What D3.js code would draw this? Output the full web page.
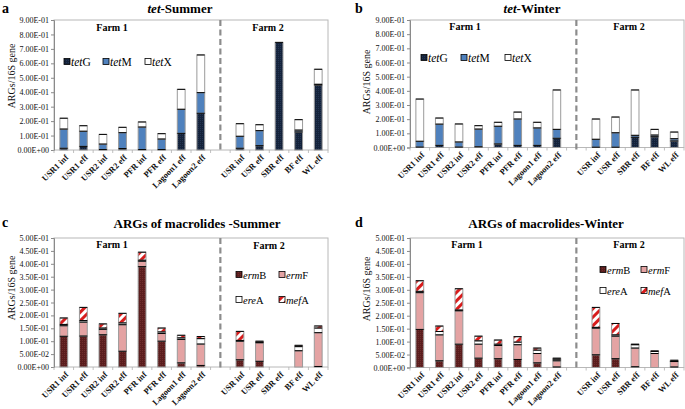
<!DOCTYPE html>
<html><head><meta charset="utf-8">
<script src="https://cdn.jsdelivr.net/npm/d3@7"></script>
<style>body{margin:0;background:#fff}svg{display:block}</style>
</head><body><svg id="c" width="685" height="409"></svg>
<script>
// ---------- DATA ----------
const farm1 = ["USR1 inf","USR1 eff","USR2 inf","USR2 eff","PFR inf","PFR eff","Lagoon1 eff","Lagoon2 eff"];
const farm2 = ["USR inf","USR eff","SBR eff","BF eff","WL eff"];
const tetKeys = ["tetG","tetM","tetX"];
const macKeys = ["ermB","ermF","ereA","mefA"];
const tetTicks = [0,0.1,0.2,0.3,0.4,0.5,0.6,0.7,0.8,0.9];
const macTicks = [0,0.05,0.1,0.15,0.2,0.25,0.3,0.35,0.4,0.45,0.5];

// a: tet-Summer
const tetG_S = [0.012,0.025,0.003,0.010,0.003,0.003,0.115,0.254, 0.012,0.030,0.745,0.125,0.450];
const tetM_S = [0.133,0.105,0.038,0.110,0.156,0.073,0.167,0.143, 0.083,0.104,0.000,0.013,0.005];
const tetX_S = [0.075,0.038,0.067,0.037,0.035,0.037,0.138,0.261, 0.087,0.041,0.000,0.072,0.104];
// b: tet-Winter
const tetG_W = [0.003,0.015,0.003,0.005,0.025,0.015,0.015,0.065, 0.002,0.002,0.072,0.076,0.046];
const tetM_W = [0.041,0.150,0.036,0.125,0.125,0.186,0.123,0.063, 0.056,0.102,0.014,0.012,0.016];
const tetX_W = [0.298,0.043,0.127,0.024,0.028,0.049,0.040,0.278, 0.143,0.111,0.320,0.040,0.047];
// c: macrolides-Summer
const ermB_S = [0.119,0.120,0.125,0.061,0.389,0.100,0.016,0.006, 0.028,0.022,0,0.000,0.002];
const ermF_S = [0.041,0.054,0.021,0.103,0.021,0.030,0.091,0.083, 0.072,0.072,0,0.063,0.131];
const ereA_S = [0.005,0.006,0.005,0.007,0.004,0.006,0.006,0.021, 0.003,0.002,0,0.016,0.018];
const mefA_S = [0.025,0.051,0.016,0.037,0.031,0.015,0.010,0.008, 0.035,0.004,0,0.005,0.008];
// d: macrolides-Winter
const ermB_W = [0.147,0.026,0.090,0.036,0.034,0.031,0.018,0.002, 0.049,0.034,0.003,0.000,0.002];
const ermF_W = [0.142,0.100,0.129,0.054,0.051,0.057,0.036,0.024, 0.103,0.087,0.072,0.054,0.021];
const ereA_W = [0.005,0.013,0.003,0.013,0.005,0.010,0.013,0.006, 0.003,0.005,0.013,0.008,0.001];
const mefA_W = [0.041,0.021,0.082,0.018,0.016,0.021,0.008,0.004, 0.077,0.044,0.002,0.002,0.004];

// ---------- RENDER ----------
const svg = d3.select("#c");
const FONT = "'Liberation Serif','Times New Roman',serif";
const defs = svg.append("defs");
function dotPattern(id, base, dot){
  const p = defs.append("pattern").attr("id",id).attr("width",2).attr("height",2).attr("patternUnits","userSpaceOnUse");
  p.append("rect").attr("width",2).attr("height",2).attr("fill",base);
  p.append("rect").attr("width",1).attr("height",1).attr("fill",dot);
}
dotPattern("pG","#14223a","#233552");
dotPattern("pB","#5a1d1d","#6f2d2d");
const ps = defs.append("pattern").attr("id","pM").attr("width",6).attr("height",6)
  .attr("patternUnits","userSpaceOnUse").attr("patternTransform","rotate(45)");
ps.append("rect").attr("width",6).attr("height",6).attr("fill","#fff");
ps.append("rect").attr("width",3).attr("height",6).attr("fill","#d81c1c");

const fills = {tetG:"url(#pG)", tetM:"#4f81bd", tetX:"#ffffff",
               ermB:"url(#pB)", ermF:"#e4a3a3", ereA:"#ffffff", mefA:"url(#pM)"};

function fmtE(v){
  if (v===0) return "0.00E+00";
  const [m,e] = v.toExponential(2).split("e");
  const n = +e;
  return m + "E" + (n<0?"-":"+") + String(Math.abs(n)).padStart(2,"0");
}

const cats = [...farm1, "", ...farm2];

function build(keys, arrays){
  return cats.map((c,i)=>{
    const r = {cat:c};
    const j = i<8 ? i : (i===8 ? -1 : i-1);
    keys.forEach((k,ki)=>{ r[k] = j<0 ? 0 : arrays[ki][j]; });
    return r;
  });
}

const panels = [
  {letter:"a", lx:2, ly:13, L:54, R:328, T:20, B:150, ymax:0.9, ticks:tetTicks, keys:tetKeys,
   data:build(tetKeys,[tetG_S,tetM_S,tetX_S]), title:[["tet",true],["-Summer",false]], tx:180, ty:13,
   f1:[112,31], f2:[268,31], ytx:11, yty:76,
   legend:{rows:[[["tetG",67,62],["tetM",106,62],["tetX",148,62]]], fs:11.5}},
  {letter:"b", lx:355, ly:13, L:410, R:684, T:20, B:147.5, ymax:0.9, ticks:tetTicks, keys:tetKeys,
   data:build(tetKeys,[tetG_W,tetM_W,tetX_W]), title:[["tet",true],["-Winter",false]], tx:532, ty:13,
   f1:[465,30], f2:[629,30], ytx:366, yty:82,
   legend:{rows:[[["tetG",424,58],["tetM",464,58],["tetX",508,58]]], fs:11.5}},
  {letter:"c", lx:2, ly:227, L:54, R:328, T:238, B:367, ymax:0.5, ticks:macTicks, keys:macKeys,
   data:build(macKeys,[ermB_S,ermF_S,ereA_S,mefA_S]), title:[["ARGs of macrolides -Summer",false]], tx:197, ty:228,
   f1:[112,248], f2:[269,249], ytx:11, yty:288,
   legend:{rows:[[["ermB",239,275],["ermF",282,275]],[["ereA",239,300],["mefA",282,300]]], fs:10.5}},
  {letter:"d", lx:355, ly:227, L:410, R:684, T:238, B:367.5, ymax:0.5, ticks:macTicks, keys:macKeys,
   data:build(macKeys,[ermB_W,ermF_W,ereA_W,mefA_W]), title:[["ARGs of macrolides-Winter",false]], tx:546, ty:228,
   f1:[467,248], f2:[629,248], ytx:366, yty:289,
   legend:{rows:[[["ermB",603,270],["ermF",644,270]],[["ereA",603,291],["mefA",644,291]]], fs:10.5}}
];

function geneLabel(sel, name){
  const pre = name.slice(0,3), suf = name.slice(3);
  sel.append("tspan").attr("font-style","italic").text(pre);
  sel.append("tspan").text(suf);
}

panels.forEach(p=>{
  const g = svg.append("g");
  const x = d3.scaleBand().domain(cats).range([p.L,p.R]).paddingInner(0.6).paddingOuter(0.3);
  const y = d3.scaleLinear().domain([0,p.ymax]).range([p.B,p.T]);
  const bw = x.bandwidth();

  g.append("rect").attr("x",p.L).attr("y",p.T).attr("width",p.R-p.L).attr("height",p.B-p.T)
    .attr("fill","none").attr("stroke","#b8b8b8").attr("stroke-width",1);

  const ya = g.append("g").attr("transform",`translate(${p.L},0)`)
    .call(d3.axisLeft(y).tickValues(p.ticks).tickFormat(fmtE).tickSize(3).tickPadding(2));
  ya.select(".domain").attr("stroke","#8a8a8a");
  ya.selectAll(".tick line").attr("stroke","#8a8a8a");
  ya.selectAll("text").attr("font-family",FONT).attr("font-size",8).attr("fill","#111");

  const step = x.step();
  d3.range(cats.length+1).forEach(i=>{
    const xx = p.L + i*step;
    g.append("line").attr("x1",xx).attr("x2",xx).attr("y1",p.B).attr("y2",p.B+3)
      .attr("stroke","#b0b0b0").attr("stroke-width",0.8);
  });

  const series = d3.stack().keys(p.keys)(p.data);
  series.forEach(s=>{
    const k = s.key;
    s.forEach(d=>{
      const c = d.data.cat;
      if (!c) return;
      const h = y(d[0]) - y(d[1]);
      if (h <= 0.05) return;
      g.append("rect").attr("x",x(c)).attr("y",y(d[1])).attr("width",bw).attr("height",h)
        .attr("fill",fills[k]).attr("stroke","#9a9a9a").attr("stroke-width",1);
    });
  });
  series.forEach(s=>{
    s.forEach(d=>{
      const c = d.data.cat;
      if (!c) return;
      const h = y(d[0]) - y(d[1]);
      if (h <= 0.05) return;
      g.append("line").attr("x1",x(c)).attr("x2",x(c)+bw).attr("y1",y(d[1])).attr("y2",y(d[1]))
        .attr("stroke","#000").attr("stroke-width",1);
    });
  });

  const sx = x("") + bw/2;
  g.append("line").attr("x1",sx).attr("x2",sx).attr("y1",p.T).attr("y2",p.B+3)
    .attr("stroke","#8c8c8c").attr("stroke-width",2.2).attr("stroke-dasharray","6,3.5");

  cats.forEach(c=>{
    if (!c) return;
    const cx = x(c) + bw/2;
    g.append("text").attr("transform",`translate(${cx+3},${p.B+6}) rotate(-45)`)
      .attr("text-anchor","end").attr("dy","0.35em")
      .attr("font-family",FONT).attr("font-size",8.5).attr("font-weight","bold").attr("fill","#111").text(c);
  });

  g.append("text").attr("transform",`translate(${p.ytx},${p.yty}) rotate(-90)`)
    .attr("text-anchor","middle").attr("dy","0.35em")
    .attr("font-family",FONT).attr("font-size",10).attr("fill","#111").text("ARGs/16S gene");

  g.append("text").attr("x",p.lx).attr("y",p.ly).attr("font-family",FONT).attr("font-size",14)
    .attr("font-weight","bold").attr("fill","#000").text(p.letter);

  const t = g.append("text").attr("x",p.tx).attr("y",p.ty).attr("text-anchor","middle")
    .attr("font-family",FONT).attr("font-size",13).attr("font-weight","bold").attr("fill","#000");
  p.title.forEach(([s,it])=>{ const ts=t.append("tspan").text(s); if(it) ts.attr("font-style","italic"); });

  [["Farm 1",p.f1],["Farm 2",p.f2]].forEach(([s,pos])=>{
    g.append("text").attr("x",pos[0]).attr("y",pos[1]).attr("text-anchor","middle")
      .attr("font-family",FONT).attr("font-size",10).attr("font-weight","bold").attr("fill","#000").text(s);
  });

  p.legend.rows.forEach(row=>{
    row.forEach(([k,lx,ly])=>{
      g.append("rect").attr("x",lx-3).attr("y",ly-3.5).attr("width",6).attr("height",6)
        .attr("fill",fills[k]).attr("stroke","#000").attr("stroke-width",0.8);
      const tx = g.append("text").attr("x",lx+4).attr("y",ly).attr("dy","0.35em")
        .attr("font-family",FONT).attr("font-size",p.legend.fs).attr("fill","#000");
      geneLabel(tx,k);
    });
  });
});
</script></body></html>
